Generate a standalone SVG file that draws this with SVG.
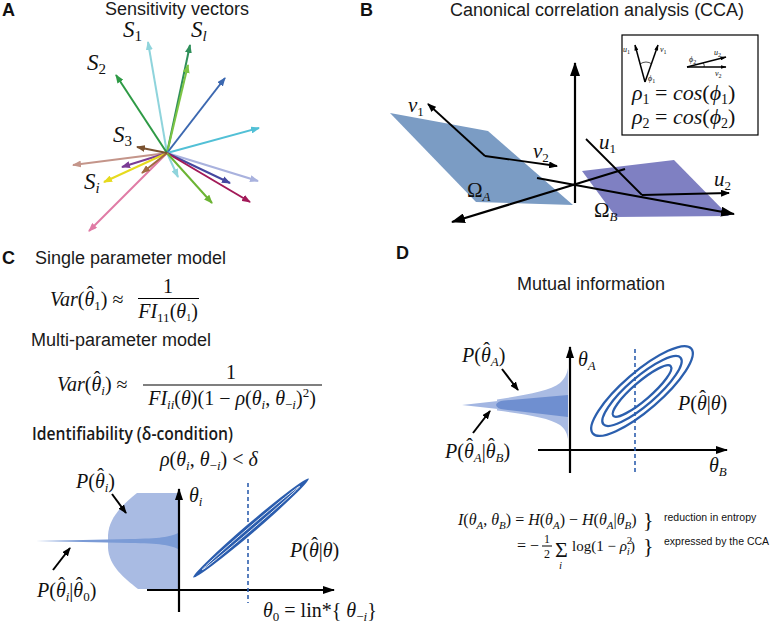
<svg xmlns="http://www.w3.org/2000/svg" width="778" height="624" viewBox="0 0 778 624">
<style>
.t{font-family:"Liberation Sans",Arial,sans-serif;font-size:18px;fill:#1a1a1a}
.p{font-family:"Liberation Sans",Arial,sans-serif;font-size:18px;font-weight:bold;fill:#111}
.m{font-family:"Liberation Serif","Times New Roman",serif;font-style:italic;fill:#111}
.u{font-style:normal}
.s{font-family:"Liberation Sans",Arial,sans-serif;font-size:10.5px;fill:#111}
.vec{stroke-width:2;fill:none;marker-end:url(#ah)}
.ax{stroke:#000;stroke-width:2.2;fill:none}
.thin{stroke:#000;stroke-width:1.8;fill:none}
.ptr{stroke:#000;stroke-width:2;fill:none;marker-end:url(#sm)}
.dash{stroke:#2f5fae;stroke-width:1.6;stroke-dasharray:4 3;fill:none}
</style>
<defs>
<marker id="ah" viewBox="0 0 9 7" refX="8" refY="3.5" markerWidth="9" markerHeight="7" markerUnits="userSpaceOnUse" orient="auto"><path d="M0,0 L9,3.5 L0,7 Z" fill="context-stroke"/></marker>
<marker id="big" viewBox="0 0 14 10" refX="13" refY="5" markerWidth="14" markerHeight="10" markerUnits="userSpaceOnUse" orient="auto"><path d="M0,0 L14,5 L0,10 Z" fill="#000"/></marker>
<marker id="med" viewBox="0 0 12 8" refX="11" refY="4" markerWidth="12" markerHeight="8" markerUnits="userSpaceOnUse" orient="auto"><path d="M0,0 L12,4 L0,8 Z" fill="#000"/></marker>
<marker id="sm" viewBox="0 0 9 7" refX="8" refY="3.5" markerWidth="9" markerHeight="7" markerUnits="userSpaceOnUse" orient="auto"><path d="M0,0 L9,3.5 L0,7 Z" fill="#000"/></marker>
<marker id="tiny" viewBox="0 0 6 4" refX="5.5" refY="2" markerWidth="6" markerHeight="4" markerUnits="userSpaceOnUse" orient="auto"><path d="M0,0 L6,2 L0,4 Z" fill="#000"/></marker>
</defs>

<g id="panel-labels">
<text class="p" x="2" y="16">A</text>
<text class="p" x="360" y="16">B</text>
<text class="p" x="2" y="264">C</text>
<text class="p" x="396" y="259">D</text>
</g>

<!-- Panel A -->
<g id="A-vectors">
<text class="t" x="105" y="15">Sensitivity vectors</text>
<path class="vec" stroke="#8fd4dc" d="M167,153 L148,42"/>
<path class="vec" stroke="#8fd4dc" d="M167,153 L178,177"/>
<path class="vec" stroke="#2f8f5a" d="M167,153 L190,45"/>
<path class="vec" stroke="#7cc444" d="M167,153 L188,65"/>
<path class="vec" stroke="#2e9a45" d="M167,153 L116,75"/>
<path class="vec" stroke="#3c68b0" d="M167,153 L225,78"/>
<path class="vec" stroke="#52c0d6" d="M167,153 L259,128"/>
<path class="vec" stroke="#a9b2de" d="M167,153 L258,181"/>
<path class="vec" stroke="#4448a0" d="M167,153 L230,183"/>
<path class="vec" stroke="#a21a58" d="M167,153 L250,202"/>
<path class="vec" stroke="#6cb434" d="M167,153 L212,203"/>
<path class="vec" stroke="#c4958a" d="M167,153 L73,165"/>
<path class="vec" stroke="#7a3c95" d="M167,153 L122,167"/>
<path class="vec" stroke="#e07ba5" d="M167,153 L89,231"/>
<path class="vec" stroke="#e6da1e" d="M167,153 L104,182"/>
<path class="vec" stroke="#a06a40" d="M167,153 L142,173"/>
<path class="vec" stroke="#7a5230" d="M167,153 L137,147"/>
<text class="m" font-size="23" x="123" y="37">S<tspan font-size="15" dy="4" class="u">1</tspan></text>
<text class="m" font-size="23" x="191" y="37">S<tspan font-size="15" dy="4">l</tspan></text>
<text class="m" font-size="23" x="87" y="70">S<tspan font-size="15" dy="4" class="u">2</tspan></text>
<text class="m" font-size="23" x="113" y="142">S<tspan font-size="15" dy="4" class="u">3</tspan></text>
<text class="m" font-size="23" x="84" y="189">S<tspan font-size="15" dy="4">i</tspan></text>
</g>

<!-- Panel B -->
<g id="B-cca">
<text class="t" x="450" y="16">Canonical correlation analysis (CCA)</text>
<polygon points="390,113 488,131 573,205 476,202" fill="#7b9cc4"/>
<polygon points="582,171 674,160 729,216 616,217" fill="#7f80c2"/>
<path class="ax" d="M575,203 L575,63" marker-end="url(#big)"/>
<path class="ax" d="M625,169 L452,222" marker-end="url(#big)"/>
<path class="ax" d="M537,178 L734,214" marker-end="url(#big)"/>
<path class="thin" d="M485,156 L428,104" marker-end="url(#sm)"/>
<path class="thin" d="M485,156 L557,166" marker-end="url(#sm)"/>
<path class="thin" d="M642,195 L586,139"/>
<path class="thin" d="M642,195 L729,193" marker-end="url(#sm)"/>
<text class="m" font-size="21" x="408" y="112">v<tspan font-size="13" dy="4" class="u">1</tspan></text>
<text class="m" font-size="21" x="533" y="158">v<tspan font-size="13" dy="4" class="u">2</tspan></text>
<text class="m" font-size="21" x="599" y="149">u<tspan font-size="13" dy="4" class="u">1</tspan></text>
<text class="m" font-size="21" x="714" y="186">u<tspan font-size="13" dy="4" class="u">2</tspan></text>
<text class="m" font-size="21" x="467" y="197"><tspan class="u">Ω</tspan><tspan font-size="13" dy="4">A</tspan></text>
<text class="m" font-size="21" x="594" y="217"><tspan class="u">Ω</tspan><tspan font-size="13" dy="4">B</tspan></text>
</g>

<g id="B-inset">
<rect x="622" y="35" width="136" height="100" fill="#fff" stroke="#000" stroke-width="1.2"/>
<path d="M645,82 L635,45" stroke="#000" stroke-width="1.5" fill="none" marker-end="url(#tiny)"/>
<path d="M645,82 L658,45" stroke="#000" stroke-width="1.5" fill="none" marker-end="url(#tiny)"/>
<path d="M640,64 Q646,60 652,64" stroke="#000" stroke-width="0.7" fill="none"/>
<path d="M687,67 L726,57" stroke="#000" stroke-width="1.3" fill="none" marker-end="url(#tiny)"/>
<path d="M687,67 L726,67" stroke="#000" stroke-width="1.3" fill="none" marker-end="url(#tiny)"/>
<path d="M703,63 Q705,65 704,67" stroke="#000" stroke-width="0.7" fill="none"/>
<text class="m" font-size="8" x="623" y="52">u<tspan font-size="6" dy="1.5" class="u">1</tspan></text>
<text class="m" font-size="8" x="660" y="52">v<tspan font-size="6" dy="1.5" class="u">1</tspan></text>
<text class="m" font-size="8" x="648" y="81">ϕ<tspan font-size="6" dy="1.5" class="u">1</tspan></text>
<text class="m" font-size="8" x="689" y="62">ϕ<tspan font-size="6" dy="1.5" class="u">2</tspan></text>
<text class="m" font-size="8" x="714" y="55">u<tspan font-size="6" dy="1.5" class="u">2</tspan></text>
<text class="m" font-size="8" x="715" y="76">v<tspan font-size="6" dy="1.5" class="u">2</tspan></text>
<text class="m" font-size="22" x="632" y="100">ρ<tspan font-size="14" dy="4" class="u">1</tspan><tspan dy="-4" class="u"> = </tspan>cos<tspan class="u">(</tspan>ϕ<tspan font-size="14" dy="4" class="u">1</tspan><tspan dy="-4" class="u">)</tspan></text>
<text class="m" font-size="22" x="632" y="124">ρ<tspan font-size="14" dy="4" class="u">2</tspan><tspan dy="-4" class="u"> = </tspan>cos<tspan class="u">(</tspan>ϕ<tspan font-size="14" dy="4" class="u">2</tspan><tspan dy="-4" class="u">)</tspan></text>
</g>

<!-- Panel C -->
<g id="C-formulas">
<text class="t" x="35" y="264">Single parameter model</text>
<text class="m" font-size="20" x="50" y="306">Var<tspan class="u">(</tspan>θ<tspan class="u" dx="-7.5" dy="-5">ˆ</tspan><tspan font-size="13" dx="0.8" dy="9" class="u">1</tspan><tspan class="u" dy="-4">) ≈</tspan></text>
<text class="m u" font-size="20" x="168" y="293" text-anchor="middle">1</text>
<line x1="138" y1="298.5" x2="199" y2="298.5" stroke="#000" stroke-width="1.1"/>
<text class="m" font-size="20" x="168" y="318" text-anchor="middle">FI<tspan font-size="13" dy="4" class="u">11</tspan><tspan class="u" dy="-4">(</tspan>θ<tspan font-size="10" dy="3" class="u">1</tspan><tspan class="u" dy="-3">)</tspan></text>
<text class="t" x="31" y="346">Multi-parameter model</text>
<text class="m" font-size="20" x="57" y="391">Var<tspan class="u">(</tspan>θ<tspan class="u" dx="-7.5" dy="-5">ˆ</tspan><tspan font-size="13" dx="0.8" dy="9">i</tspan><tspan class="u" dy="-4">) ≈</tspan></text>
<text class="m u" font-size="20" x="231" y="379" text-anchor="middle">1</text>
<line x1="143" y1="385" x2="322" y2="385" stroke="#000" stroke-width="1.1"/>
<text class="m" font-size="20" x="232" y="405" text-anchor="middle">FI<tspan font-size="13" dy="4">ii</tspan><tspan class="u" dy="-4">(</tspan>θ<tspan class="u">)(1 − </tspan>ρ<tspan class="u">(</tspan>θ<tspan font-size="13" dy="4">i</tspan><tspan class="u" dy="-4">, </tspan>θ<tspan font-size="13" dy="4" class="u">−</tspan><tspan font-size="13">i</tspan><tspan class="u" dy="-4">)</tspan><tspan font-size="13" dy="-8" class="u">2</tspan><tspan class="u" dy="8">)</tspan></text>
<text x="32" y="440" font-family="'Open Sans','Liberation Sans',sans-serif" font-size="18" font-weight="600" fill="#1a1a1a" textLength="201" lengthAdjust="spacingAndGlyphs">Identifiability (δ-condition)</text>
</g>

<g id="C-plot">
<path d="M137,493 L178,493 L178,589 L138,589 C124,578 109,566 108,548 L108,535 C109,518 122,505 137,493 Z" fill="#a9bbe3"/>
<path d="M36,541 L130,539 C160,538.5 170,537 178,533 L178,549 C170,545 160,543.5 130,543 Z" fill="#7b9bd6"/>
<path class="ax" d="M179,612 L179,489" marker-end="url(#med)"/>
<path class="ax" d="M147,590 L334,590" marker-end="url(#med)"/>
<path class="dash" d="M248,483 L248,603"/>
<ellipse cx="251" cy="528" rx="76" ry="4.8" transform="rotate(-40.6 251 528)" fill="#2b5dae"/>
<ellipse cx="251" cy="528" rx="64" ry="1.7" transform="rotate(-40.6 251 528)" fill="none" stroke="#fff" stroke-width="0.8"/>
<path class="ptr" d="M112,494 L126,513"/>
<path class="ptr" d="M53,570 L70,548"/>
<text class="m" font-size="20" x="160" y="466">ρ<tspan class="u">(</tspan>θ<tspan font-size="13" dy="4">i</tspan><tspan class="u" dy="-4">, </tspan>θ<tspan font-size="13" dy="4" class="u">−</tspan><tspan font-size="13">i</tspan><tspan class="u" dy="-4">) &lt; </tspan>δ</text>
<text class="m" font-size="20" x="76" y="488">P<tspan class="u">(</tspan>θ<tspan class="u" dx="-7.5" dy="-5">ˆ</tspan><tspan font-size="13" dx="0.8" dy="9">i</tspan><tspan class="u" dy="-4">)</tspan></text>
<text class="m" font-size="20" x="189" y="502">θ<tspan font-size="13" dy="4">i</tspan></text>
<text class="m" font-size="20" x="290" y="557">P<tspan class="u">(</tspan>θ<tspan class="u" dx="-7.5" dy="-5">ˆ</tspan><tspan class="u" dx="0.8" dy="5">|</tspan>θ<tspan class="u">)</tspan></text>
<text class="m" font-size="20" x="37" y="597">P<tspan class="u">(</tspan>θ<tspan class="u" dx="-7.5" dy="-5">ˆ</tspan><tspan font-size="13" dx="0.8" dy="9">i</tspan><tspan class="u" dy="-4">|</tspan>θ<tspan class="u" dx="-7.5" dy="-5">ˆ</tspan><tspan font-size="13" dx="0.8" dy="9" class="u">0</tspan><tspan class="u" dy="-4">)</tspan></text>
<text class="m" font-size="20" x="263" y="617">θ<tspan font-size="13" dy="4" class="u">0</tspan><tspan class="u" dy="-4"> = lin*{ </tspan>θ<tspan font-size="13" dy="4" class="u">−</tspan><tspan font-size="13">i</tspan><tspan class="u" dy="-4">}</tspan></text>
</g>

<!-- Panel D -->
<g id="D-plot">
<text class="t" x="591" y="290" text-anchor="middle">Mutual information</text>
<path d="M462,405 L498,401 L498,409 Z" fill="#a3b6e2"/>
<path d="M497,399.5 C525,395 550,391 560,383 C565,378 567,374 568,368 L568,439 C567,433 565,429 560,425 C550,418 525,414 497,410.5 Z" fill="#a9bbe3"/>
<path d="M496,405 Q497,401 504,400.5 L568,395 L568,417 L504,409.5 Q497,409 496,405 Z" fill="#6f8fd0"/>
<path class="ax" d="M570,473 L570,347" marker-end="url(#med)"/>
<path class="ax" d="M538,450 L727,450" marker-end="url(#med)"/>
<path class="dash" d="M635,349 L635,474"/>
<g fill="none" stroke="#2b5fae" stroke-width="2.3" transform="rotate(-40.8 642 391)">
<ellipse cx="642" cy="391" rx="65" ry="19"/>
<ellipse cx="642" cy="391" rx="51" ry="14"/>
<ellipse cx="642" cy="391" rx="38" ry="9"/>
</g>
<path class="ptr" d="M502,369 L518,390"/>
<path class="ptr" d="M473,433 L490,411"/>
<text class="m" font-size="20" x="462" y="362">P<tspan class="u">(</tspan>θ<tspan class="u" dx="-7.5" dy="-5">ˆ</tspan><tspan font-size="13" dx="0.8" dy="9">A</tspan><tspan class="u" dy="-4">)</tspan></text>
<text class="m" font-size="20" x="578" y="366">θ<tspan font-size="13" dy="4">A</tspan></text>
<text class="m" font-size="20" x="678" y="410">P<tspan class="u">(</tspan>θ<tspan class="u" dx="-7.5" dy="-5">ˆ</tspan><tspan class="u" dx="0.8" dy="5">|</tspan>θ<tspan class="u">)</tspan></text>
<text class="m" font-size="20" x="445" y="458">P<tspan class="u">(</tspan>θ<tspan class="u" dx="-7.5" dy="-5">ˆ</tspan><tspan font-size="13" dx="0.8" dy="9">A</tspan><tspan class="u" dy="-4">|</tspan>θ<tspan class="u" dx="-7.5" dy="-5">ˆ</tspan><tspan font-size="13" dx="0.8" dy="9">B</tspan><tspan class="u" dy="-4">)</tspan></text>
<text class="m" font-size="20" x="709" y="472">θ<tspan font-size="13" dy="4">B</tspan></text>
</g>

<g id="D-formulas">
<text class="m" font-size="16" x="458" y="525">I<tspan class="u">(</tspan>θ<tspan font-size="11" dy="4">A</tspan><tspan class="u" dy="-4">, </tspan>θ<tspan font-size="11" dy="4">B</tspan><tspan class="u" dy="-4">) = </tspan>H<tspan class="u">(</tspan>θ<tspan font-size="11" dy="4">A</tspan><tspan class="u" dy="-4">) − </tspan>H<tspan class="u">(</tspan>θ<tspan font-size="11" dy="4">A</tspan><tspan class="u" dy="-4">|</tspan>θ<tspan font-size="11" dy="4">B</tspan><tspan class="u" dy="-4">)</tspan></text>
<text class="m u" font-size="16" x="517" y="551">= −</text>
<text class="m u" font-size="12" x="547" y="543" text-anchor="middle">1</text>
<line x1="542" y1="546" x2="552" y2="546" stroke="#000" stroke-width="1"/>
<text class="m u" font-size="12" x="547" y="558" text-anchor="middle">2</text>
<text class="m u" font-size="22" x="555" y="557">Σ</text>
<text class="m" font-size="11" x="559" y="569">i</text>
<text class="m" font-size="15" x="572" y="551"><tspan class="u">log(1 − </tspan>ρ<tspan font-size="11" dy="-7" class="u">2</tspan><tspan font-size="11" dx="-5.5" dy="11">i</tspan><tspan class="u" dy="-4">)</tspan></text>
<text class="m u" font-size="22" x="643" y="527">}</text>
<text class="m u" font-size="22" x="643" y="553">}</text>
<text class="s" x="664" y="521">reduction in entropy</text>
<text class="s" x="664" y="545">expressed by the CCA</text>
</g>
</svg>
